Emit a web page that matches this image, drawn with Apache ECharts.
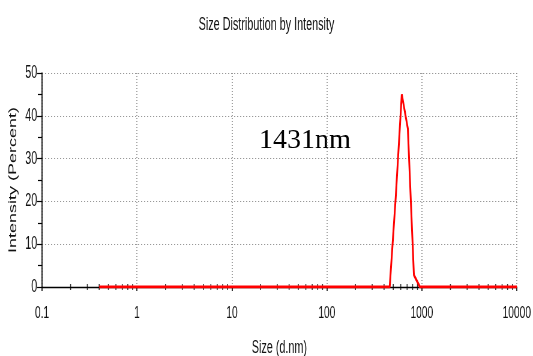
<!DOCTYPE html>
<html>
<head>
<meta charset="utf-8">
<script src="https://cdn.jsdelivr.net/npm/echarts@6/dist/echarts.min.js"></script>
<style>
  html, body { margin: 0; padding: 0; background: #fff; overflow: hidden; }
  /* The chart is laid out wide and condensed horizontally, giving the narrow lettering of the report */
  #chart { width: 888px; height: 356px; transform: scaleX(0.6002); transform-origin: 0 0; }
</style>
</head>
<body>
<div id="chart"></div>
<script>
// Size classes (d.nm) and the intensity-weighted distribution (%)
const sizes = [0.4, 458.7, 531.2, 615.1, 712.4, 825.0, 955.4, 10000];
const intensity = [0, 0, 21, 45, 37, 2.8, 0, 0];

// Axis tick values
const yTicks = [0, 10, 20, 30, 40, 50];
const xDecades = [0.1, 1, 10, 100, 1000, 10000];
const xMinorSteps = [2, 3, 4, 5, 6, 7, 8, 9];

// Peak annotation
const peakLabel = '1431nm';

const SQUEEZE = 0.6002;
const sans = '"Liberation Sans", Arial, sans-serif';
const ink = '#111';

// Minor ticks on the log axis at 2..9 within each decade
const minorTickPts = [];
for (let d = 0; d < xDecades.length - 1; d++) {
  for (const m of xMinorSteps) minorTickPts.push([xDecades[d] * m, 0]);
}

const chart = echarts.init(document.getElementById('chart'), null, { renderer: 'canvas' });

chart.setOption({
  animation: false,
  backgroundColor: '#ffffff',
  title: {
    text: 'Size Distribution by Intensity',
    left: 'center',
    top: 11,
    textStyle: { fontFamily: sans, fontSize: 18, fontWeight: 'normal', color: ink }
  },
  grid: { left: 70, right: 27, top: 73, bottom: 69, containLabel: false, outerBoundsMode: 'none' },
  xAxis: {
    type: 'log',
    logBase: 10,
    min: xDecades[0],
    max: xDecades[xDecades.length - 1],
    name: 'Size (d.nm)',
    nameLocation: 'middle',
    nameGap: 52,
    nameTextStyle: { fontFamily: sans, fontSize: 18, color: ink },
    axisLine: { show: true, lineStyle: { color: '#000', width: 1.3 }, onZero: false },
    axisTick: { show: true, inside: false, length: 4, lineStyle: { color: '#000', width: 1.6 } },
    axisLabel: {
      fontFamily: sans, fontSize: 17, color: ink, margin: 18,
      formatter: v => String(+v)
    },
    splitLine: { show: true, lineStyle: { color: '#888', type: [1, 2], width: 1.6 } }
  },
  yAxis: {
    type: 'value',
    min: yTicks[0],
    max: yTicks[yTicks.length - 1],
    interval: 10,
    name: 'Intensity (Percent)',
    nameLocation: 'middle',
    nameGap: 37,
    nameTextStyle: { fontFamily: sans, fontSize: 18, color: ink },
    axisLine: { show: true, lineStyle: { color: '#000', width: 1.6 } },
    axisTick: { show: true, length: 8, lineStyle: { color: '#000', width: 1.2 } },
    minorTick: { show: true, splitNumber: 2, length: 7, lineStyle: { color: '#000', width: 1.2 } },
    axisLabel: { fontFamily: sans, fontSize: 18, color: ink, margin: 8, padding: [8, 0, 0, 0] },
    splitLine: { show: true, lineStyle: { color: '#999', type: [2, 3], width: 1 } }
  },
  graphic: [{
    type: 'text',
    x: 259 / SQUEEZE,
    y: 141,
    scaleX: 1 / SQUEEZE,
    style: {
      text: peakLabel,
      fontFamily: '"Liberation Serif", "Times New Roman", serif',
      fontSize: 28,
      fill: '#000',
      verticalAlign: 'middle',
      align: 'left'
    }
  }],
  series: [
    {
      type: 'scatter',
      data: minorTickPts,
      symbol: 'rect',
      symbolSize: [1.6, 6],
      itemStyle: { color: '#000' },
      silent: true,
      z: 1
    },
    {
      type: 'line',
      data: sizes.map((s, i) => [s, intensity[i]]),
      showSymbol: false,
      symbol: 'none',
      lineStyle: { color: '#ff0000', width: 3 },
      itemStyle: { color: '#ff0000' },
      z: 3
    }
  ]
});
</script>
</body>
</html>
